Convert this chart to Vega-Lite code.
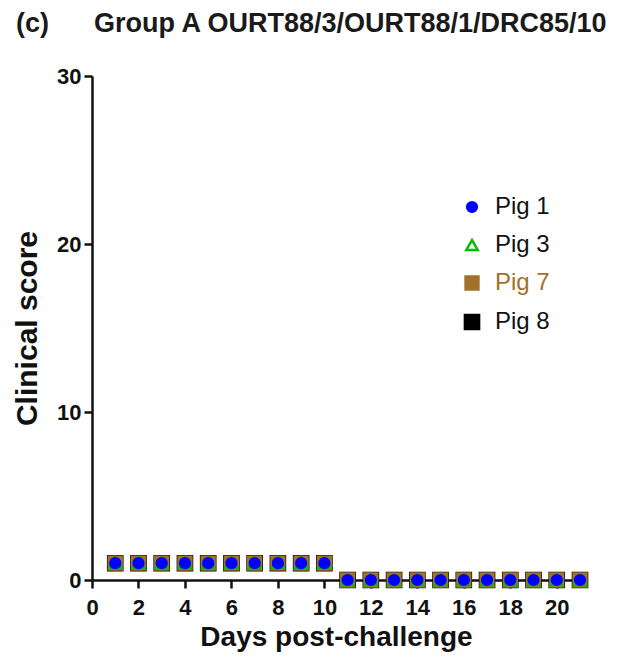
{
  "$schema": "https://vega.github.io/schema/vega-lite/v6.json",
  "autosize": {"type": "none"},
  "padding": {"left": 92, "top": 76, "right": 50, "bottom": 77},
  "width": 488,
  "height": 504,
  "background": "white",
  "config": {
    "view": {"stroke": null},
    "font": "Liberation Sans"
  },
  "title": {
    "text": "(c)\u00a0\u00a0\u00a0\u00a0\u00a0\u00a0Group A OURT88/3/OURT88/1/DRC85/10",
    "anchor": "start",
    "frame": "group",
    "font": "Liberation Sans",
    "fontSize": 27,
    "fontWeight": "bold",
    "color": "#1a1a1a",
    "dx": -76,
    "offset": 27
  },
  "data": {
    "values": [
      {"pig": "Pig 8", "day": 1, "score": 1}, {"pig": "Pig 8", "day": 2, "score": 1}, {"pig": "Pig 8", "day": 3, "score": 1}, {"pig": "Pig 8", "day": 4, "score": 1}, {"pig": "Pig 8", "day": 5, "score": 1}, {"pig": "Pig 8", "day": 6, "score": 1}, {"pig": "Pig 8", "day": 7, "score": 1}, {"pig": "Pig 8", "day": 8, "score": 1}, {"pig": "Pig 8", "day": 9, "score": 1}, {"pig": "Pig 8", "day": 10, "score": 1}, {"pig": "Pig 8", "day": 11, "score": 0}, {"pig": "Pig 8", "day": 12, "score": 0}, {"pig": "Pig 8", "day": 13, "score": 0}, {"pig": "Pig 8", "day": 14, "score": 0}, {"pig": "Pig 8", "day": 15, "score": 0}, {"pig": "Pig 8", "day": 16, "score": 0}, {"pig": "Pig 8", "day": 17, "score": 0}, {"pig": "Pig 8", "day": 18, "score": 0}, {"pig": "Pig 8", "day": 19, "score": 0}, {"pig": "Pig 8", "day": 20, "score": 0}, {"pig": "Pig 8", "day": 21, "score": 0},
      {"pig": "Pig 7", "day": 1, "score": 1}, {"pig": "Pig 7", "day": 2, "score": 1}, {"pig": "Pig 7", "day": 3, "score": 1}, {"pig": "Pig 7", "day": 4, "score": 1}, {"pig": "Pig 7", "day": 5, "score": 1}, {"pig": "Pig 7", "day": 6, "score": 1}, {"pig": "Pig 7", "day": 7, "score": 1}, {"pig": "Pig 7", "day": 8, "score": 1}, {"pig": "Pig 7", "day": 9, "score": 1}, {"pig": "Pig 7", "day": 10, "score": 1}, {"pig": "Pig 7", "day": 11, "score": 0}, {"pig": "Pig 7", "day": 12, "score": 0}, {"pig": "Pig 7", "day": 13, "score": 0}, {"pig": "Pig 7", "day": 14, "score": 0}, {"pig": "Pig 7", "day": 15, "score": 0}, {"pig": "Pig 7", "day": 16, "score": 0}, {"pig": "Pig 7", "day": 17, "score": 0}, {"pig": "Pig 7", "day": 18, "score": 0}, {"pig": "Pig 7", "day": 19, "score": 0}, {"pig": "Pig 7", "day": 20, "score": 0}, {"pig": "Pig 7", "day": 21, "score": 0},
      {"pig": "Pig 3", "day": 1, "score": 1}, {"pig": "Pig 3", "day": 2, "score": 1}, {"pig": "Pig 3", "day": 3, "score": 1}, {"pig": "Pig 3", "day": 4, "score": 1}, {"pig": "Pig 3", "day": 5, "score": 1}, {"pig": "Pig 3", "day": 6, "score": 1}, {"pig": "Pig 3", "day": 7, "score": 1}, {"pig": "Pig 3", "day": 8, "score": 1}, {"pig": "Pig 3", "day": 9, "score": 1}, {"pig": "Pig 3", "day": 10, "score": 1}, {"pig": "Pig 3", "day": 11, "score": 0}, {"pig": "Pig 3", "day": 12, "score": 0}, {"pig": "Pig 3", "day": 13, "score": 0}, {"pig": "Pig 3", "day": 14, "score": 0}, {"pig": "Pig 3", "day": 15, "score": 0}, {"pig": "Pig 3", "day": 16, "score": 0}, {"pig": "Pig 3", "day": 17, "score": 0}, {"pig": "Pig 3", "day": 18, "score": 0}, {"pig": "Pig 3", "day": 19, "score": 0}, {"pig": "Pig 3", "day": 20, "score": 0}, {"pig": "Pig 3", "day": 21, "score": 0},
      {"pig": "Pig 1", "day": 1, "score": 1}, {"pig": "Pig 1", "day": 2, "score": 1}, {"pig": "Pig 1", "day": 3, "score": 1}, {"pig": "Pig 1", "day": 4, "score": 1}, {"pig": "Pig 1", "day": 5, "score": 1}, {"pig": "Pig 1", "day": 6, "score": 1}, {"pig": "Pig 1", "day": 7, "score": 1}, {"pig": "Pig 1", "day": 8, "score": 1}, {"pig": "Pig 1", "day": 9, "score": 1}, {"pig": "Pig 1", "day": 10, "score": 1}, {"pig": "Pig 1", "day": 11, "score": 0}, {"pig": "Pig 1", "day": 12, "score": 0}, {"pig": "Pig 1", "day": 13, "score": 0}, {"pig": "Pig 1", "day": 14, "score": 0}, {"pig": "Pig 1", "day": 15, "score": 0}, {"pig": "Pig 1", "day": 16, "score": 0}, {"pig": "Pig 1", "day": 17, "score": 0}, {"pig": "Pig 1", "day": 18, "score": 0}, {"pig": "Pig 1", "day": 19, "score": 0}, {"pig": "Pig 1", "day": 20, "score": 0}, {"pig": "Pig 1", "day": 21, "score": 0}
    ]
  },
  "mark": {"type": "point", "filled": false, "strokeWidth": 2.5, "opacity": 1, "clip": false},
  "encoding": {
    "x": {
      "field": "day", "type": "quantitative",
      "scale": {"domain": [0, 21], "nice": false, "zero": true},
      "axis": {
        "title": "Days post-challenge",
        "values": [0, 2, 4, 6, 8, 10, 12, 14, 16, 18, 20],
        "grid": false,
        "domainColor": "#111", "domainWidth": 2.5,
        "tickColor": "#111", "tickWidth": 2.5, "tickSize": 8,
        "labelFont": "Liberation Sans", "labelFontSize": 22, "labelFontWeight": "bold", "labelColor": "#111",
        "labelPadding": 9, "labelFlush": false,
        "titleFont": "Liberation Sans", "titleFontSize": 28, "titleFontWeight": "bold", "titleColor": "#111",
        "titlePadding": 5
      }
    },
    "y": {
      "field": "score", "type": "quantitative",
      "scale": {"domain": [0, 30], "nice": false},
      "axis": {
        "title": "Clinical score",
        "values": [0, 10, 20, 30],
        "grid": false,
        "domainColor": "#111", "domainWidth": 2.5,
        "tickColor": "#111", "tickWidth": 2.5, "tickSize": 8,
        "labelFont": "Liberation Sans", "labelFontSize": 22, "labelFontWeight": "bold", "labelColor": "#111",
        "labelPadding": 3, "labelFlush": false,
        "titleFont": "Liberation Sans", "titleFontSize": 30, "titleFontWeight": "bold", "titleColor": "#111",
        "titlePadding": 14
      }
    },
    "shape": {
      "field": "pig", "type": "nominal",
      "scale": {"domain": ["Pig 1", "Pig 3", "Pig 7", "Pig 8"], "range": ["circle", "triangle-up", "square", "square"]},
      "legend": {
        "title": null, "orient": "none", "legendX": 368, "legendY": 119,
        "padding": 0, "rowPadding": 14, "labelOffset": 11,
        "labelFont": "Liberation Sans", "labelFontSize": 24,
        "labelColor": {"expr": "datum.label === 'Pig 7' ? '#a0722a' : '#111111'"},
        "symbolStrokeWidth": 2.5
      }
    },
    "fill": {
      "field": "pig", "type": "nominal",
      "scale": {"domain": ["Pig 1", "Pig 3", "Pig 7", "Pig 8"], "range": ["#0000ff", "#ffffff", "#a0722a", "#000000"]}
    },
    "stroke": {
      "field": "pig", "type": "nominal",
      "scale": {"domain": ["Pig 1", "Pig 3", "Pig 7", "Pig 8"], "range": ["#0000ff", "#00c000", "#a0722a", "#000000"]}
    },
    "size": {
      "field": "pig", "type": "nominal",
      "scale": {"domain": ["Pig 1", "Pig 3", "Pig 7", "Pig 8"], "range": [95, 200, 220, 56]}
    }
  }
}
